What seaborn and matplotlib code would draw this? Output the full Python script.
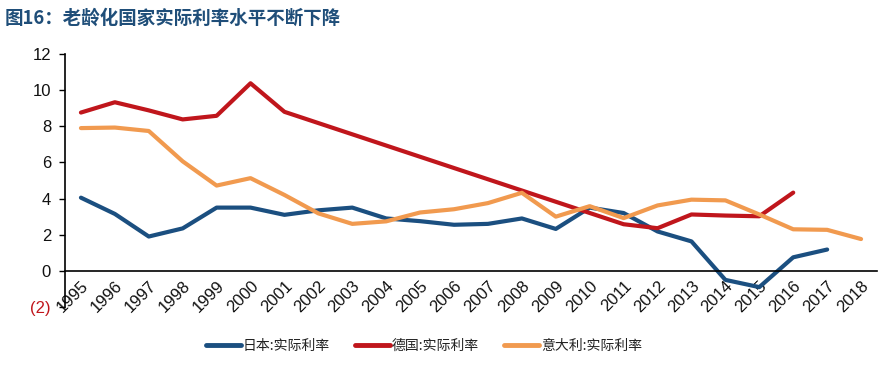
import numpy as np
import pandas as pd
import matplotlib
matplotlib.use("Agg")
import matplotlib.pyplot as plt
import seaborn as sns

years = list(range(1995, 2019))
japan = [4.05, 3.15, 1.9, 2.35, 3.5, 3.5, 3.1, 3.35, 3.5, 2.9, 2.75, 2.55,
         2.6, 2.9, 2.32, 3.5, 3.2, 2.18, 1.63, -0.5, -0.9, 0.75, 1.18, None]
germany = [8.76, 9.33, 8.88, 8.38, 8.58, 10.38, 8.8, None, None, None, None, None,
           None, None, None, None, 2.58, 2.36, 3.12, 3.06, 3.02, 4.33, None, None]
italy = [7.9, 7.93, 7.74, 6.06, 4.72, 5.13, 4.2, 3.18, 2.6, 2.74, 3.23, 3.41,
         3.75, 4.32, 3.0, 3.58, 2.92, 3.62, 3.94, 3.9, 3.12, 2.3, 2.27, 1.76]
series_names = ["日本:实际利率", "德国:实际利率", "意大利:实际利率"]
colors = ["#1B4F80", "#C0161C", "#F19A4F"]
y_ticks = [-2, 0, 2, 4, 6, 8, 10, 12]
y_labels = ["(2)", "0", "2", "4", "6", "8", "10", "12"]
title = "图16：老龄化国家实际利率水平不断下降"

df = pd.DataFrame({
    "year": years * 3,
    "value": japan + germany + italy,
    "series": [series_names[0]] * len(years) + [series_names[1]] * len(years)
              + [series_names[2]] * len(years),
})
df["value"] = pd.to_numeric(df["value"])

sns.set_theme(style="white")
plt.rcParams["font.family"] = ["Noto Sans CJK SC", "DejaVu Sans"]

fig = plt.figure(figsize=(8.92, 3.65), dpi=100)
ax = fig.add_axes([65 / 892, 1 - 307 / 365, (877 - 65) / 892, (307 - 54) / 365])

sns.lineplot(data=df, x="year", y="value", hue="series", hue_order=series_names,
             palette=colors, linewidth=3.0, ax=ax, legend=False)

ax.set_xlim(1994.53, 2018.47)
ax.set_ylim(-2, 12)
ax.set_xlabel("")
ax.set_ylabel("")

for s in ["top", "right"]:
    ax.spines[s].set_visible(False)
ax.spines["bottom"].set_position(("data", 0))
for s in ["left", "bottom"]:
    ax.spines[s].set_color("black")
    ax.spines[s].set_linewidth(1.2)

ax.set_yticks(y_ticks)
ax.set_yticklabels(y_labels, fontfamily="Liberation Sans", fontsize=12)
ax.tick_params(axis="y", direction="out", length=4, width=1, color="black", pad=6,
               left=True)
for lbl in ax.get_yticklabels():
    lbl.set_color("#111111")
ax.get_yticklabels()[0].set_color("#C0161C")

ax.set_xticks(years)
ax.set_xticklabels([str(y) for y in years], fontfamily="Liberation Sans", fontsize=12,
                   rotation=45, ha="right", va="top", rotation_mode="anchor",
                   color="#111111")
ax.tick_params(axis="x", length=0, pad=5)

fig.text(5 / 892, 1 - 18 / 365, title, fontsize=13.3, fontweight="bold",
         color="#1F4E79", va="center", ha="left")

handles = [plt.Line2D([0], [0], color=c, lw=3.5) for c in colors]
fig.legend(handles, series_names, loc="center", bbox_to_anchor=(424 / 892, 1 - 346 / 365),
           ncol=3, frameon=False, fontsize=10, handlelength=2.5, handletextpad=0.15,
           columnspacing=1.8, labelcolor="#222222")

fig.savefig("out.png", dpi=100)
